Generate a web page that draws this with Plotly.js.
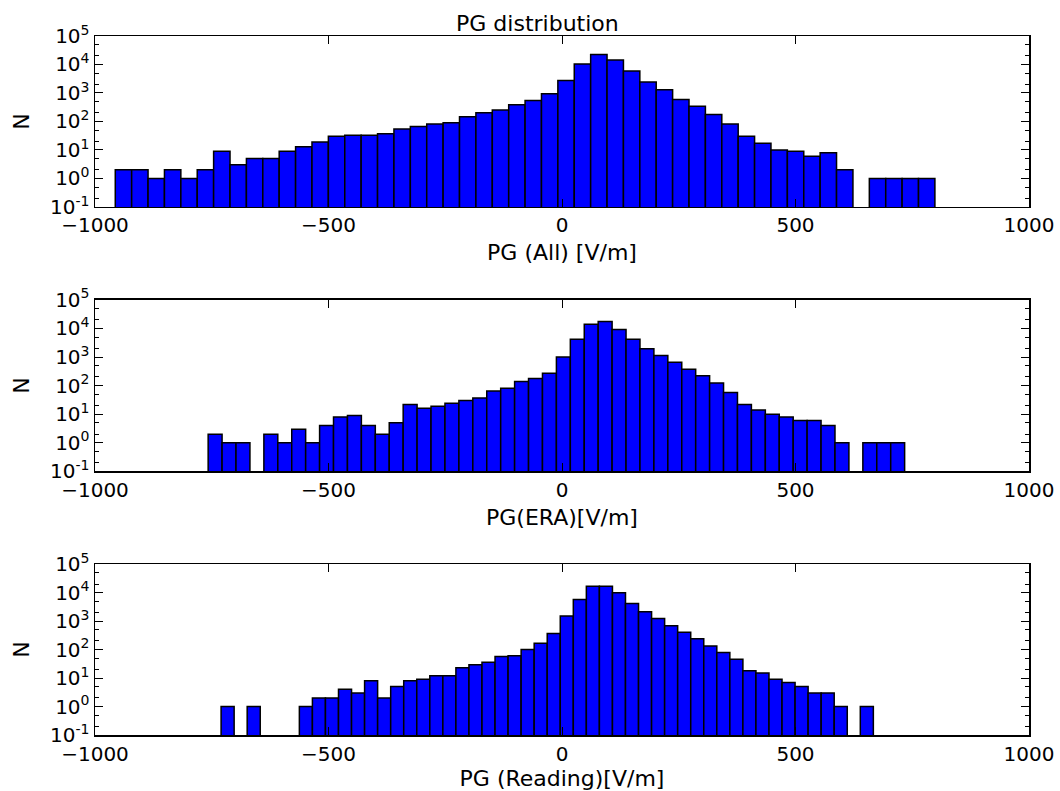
<!DOCTYPE html>
<html>
<head>
<meta charset="utf-8">
<script src="https://cdn.plot.ly/plotly-3.0.1.min.js"></script>
<style>html,body{margin:0;padding:0;background:#fff;}#chart{width:1060px;height:791px;}</style>
</head>
<body>
<div id="chart"></div>
<script>
// Histogram counts (50 bins each)
const countsAll = [2,2,1,2,1,2,9,3,5,5, 9,13,19,30,33,33,37,54,67,81, 90,146,201,250,384,545,931,2730,10500,22200, 14400,5950,2450,1285,590,344,176,81,30,17, 10,9,6,8,2,0,1,1,1,1];
const rangeAll = [-956.6, 798.5];
const countsERA = [2,1,1,0,2,1,3,1,4,8, 9,4,2,5,22,16,19,24,30,37, 65,81,138,176,271,1010,4200,14000,17400,9140, 4200,1930,1125,657,374,219,124,57,22,14, 10,8,6,6,4,1,0,1,1,1];
const rangeERA = [-757.7, 733.7];
const countsReading = [1,0,1,0,0,0,1,2,2,4, 3,8,2,5,8,9,12,12,23,29, 36,57,61,100,167,365,1520,5700,16800,16800, 9800,4140,2110,1230,678,406,237,134,78,46, 18,15,9,7,5,3,3,1,0,1];
const rangeReading = [-730.0, 666.7];

const xTickVals = [-1000, -500, 0, 500, 1000];
const xTickText = ['\u22121000', '\u2212500', '0', '500', '1000'];
const yTickVals = [0.1, 1, 10, 100, 1000, 10000, 100000];
const yTickText = ['10<sup>-1</sup>','10<sup>0</sup>','10<sup>1</sup>','10<sup>2</sup>','10<sup>3</sup>','10<sup>4</sup>','10<sup>5</sup>'];
const xTitles = ['PG (All) [V/m]', 'PG(ERA)[V/m]', 'PG (Reading)[V/m]'];
const chartTitle = 'PG distribution';

function barTrace(counts, range, idx) {
  const n = counts.length;
  const w = (range[1] - range[0]) / n;
  const x = counts.map((c, i) => range[0] + w * (i + 0.5));
  const y = counts.map(c => c > 0 ? c : null);
  return {
    type: 'bar', x: x, y: y, width: w,
    marker: {color: '#0000ff', line: {color: '#000', width: 1.5}},
    xaxis: idx === 1 ? 'x' : 'x' + idx,
    yaxis: idx === 1 ? 'y' : 'y' + idx,
    hoverinfo: 'x+y'
  };
}

const data = [
  barTrace(countsAll, rangeAll, 1),
  barTrace(countsERA, rangeERA, 2),
  barTrace(countsReading, rangeReading, 3)
];

const tickFont = {family: 'DejaVu Sans', size: 20, color: '#000'};
const labelFont = {family: 'DejaVu Sans', size: 22, color: '#000'};
function xAxis(anchor, title) {
  return {
    anchor: anchor, domain: [0, 1], range: [-1000, 1000],
    tickvals: xTickVals, ticktext: xTickText,
    ticks: 'inside', ticklen: 8, tickwidth: 1, tickcolor: '#000',
    showline: true, linecolor: '#000', linewidth: 1.5, mirror: 'ticks',
    showgrid: false, zeroline: false, automargin: false,
    tickfont: tickFont,
    title: {text: title, font: labelFont, standoff: 8}
  };
}
function yAxis(anchor, domain) {
  return {
    anchor: anchor, domain: domain, type: 'log', range: [-1, 5],
    tickvals: yTickVals, ticktext: yTickText,
    ticks: 'inside', ticklen: 8, tickwidth: 1, tickcolor: '#000',
    minor: {ticks: 'inside', ticklen: 4, tickcolor: '#000', tickwidth: 1, showgrid: false},
    showline: true, linecolor: '#000', linewidth: 1.5, mirror: 'ticks',
    showgrid: false, zeroline: false, automargin: false,
    tickfont: tickFont,
    title: {text: 'N', font: labelFont, standoff: 14}
  };
}

const layout = {
  width: 1060, height: 791,
  margin: {l: 95, r: 31, t: 36, b: 56},
  paper_bgcolor: '#fff', plot_bgcolor: '#fff',
  showlegend: false, bargap: 0,
  font: tickFont,
  title: {text: chartTitle, font: labelFont, x: 0.507, xanchor: 'center', y: 0.971, yanchor: 'middle'},
  xaxis: xAxis('y', xTitles[0]),
  yaxis: yAxis('x', [0.7555, 1]),
  xaxis2: xAxis('y2', xTitles[1]),
  yaxis2: yAxis('x2', [0.3771, 0.6226]),
  xaxis3: xAxis('y3', xTitles[2]),
  yaxis3: yAxis('x3', [0, 0.2445])
};

Plotly.newPlot('chart', data, layout, {displayModeBar: false, staticPlot: true});
</script>
</body>
</html>
